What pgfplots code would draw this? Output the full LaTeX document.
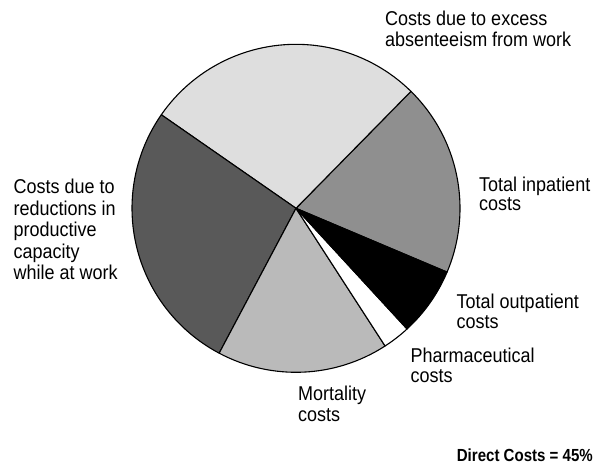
\documentclass[border=0pt]{standalone}
\usepackage{pgfplots}
\pgfplotsset{compat=1.18}
\usepackage{fontspec}
\setmainfont{Liberation Sans}[FakeStretch=0.9]
\newfontface\dcfont{Liberation Sans Bold}[FakeStretch=0.86]
% slice shares in percent (counter-clockwise, starting from inpatient)
\def\vIn{19.0}
\def\vAbs{27.7}
\def\vProd{26.9}
\def\vMort{16.9}
\def\vPharm{2.7}
\def\vOut{6.8}
\pgfmathsetmacro\aA{-22.9}
\pgfmathsetmacro\aB{\aA+3.6*\vIn}
\pgfmathsetmacro\aC{\aB+3.6*\vAbs}
\pgfmathsetmacro\aD{\aC+3.6*\vProd}
\pgfmathsetmacro\aE{\aD+3.6*\vMort}
\pgfmathsetmacro\aF{\aE+3.6*\vPharm}
\pgfmathsetmacro\aG{\aF+3.6*\vOut}
\def\cx{296}
\def\cy{208.3}
\def\r{164}
\newcommand\slice[3]{%
  \filldraw[fill=#3, draw=black, line width=1.1bp, line join=round]
    (axis cs:\cx,\cy) -- ([shift={(#1:\r bp)}]axis cs:\cx,\cy)
    arc[start angle=#1, end angle=#2, radius=\r bp] -- cycle;}
\newcommand\lab[3]{\node[anchor=base west, inner sep=0pt, font=\fontsize{20bp}{21bp}\selectfont] at (axis cs:#1,#2) {#3};}
\begin{document}
\begin{tikzpicture}
\begin{axis}[scale only axis, width=594bp, height=466bp,
  xmin=0, xmax=594, ymin=0, ymax=466, y dir=reverse,
  hide axis, clip=false]
\addplot[draw=none, forget plot] coordinates {(0,0) (594,466)};
\slice{\aA}{\aB}{black!44}
\slice{\aB}{\aC}{black!13}
\slice{\aC}{\aD}{black!65}
\slice{\aD}{\aE}{black!27}
\slice{\aE}{\aF}{white}
\slice{\aF}{\aG}{black}
\lab{385}{26}{Costs due to excess}
\lab{385}{46.7}{absenteeism from work}
\lab{13.5}{193.3}{Costs due to}
\lab{13.5}{215}{reductions in}
\lab{13.5}{236.5}{productive}
\lab{13.5}{258}{capacity}
\lab{13.5}{279.5}{while at work}
\lab{479}{191}{Total inpatient}
\lab{479}{210.5}{costs}
\lab{456.5}{308.3}{Total outpatient}
\lab{456.5}{328.3}{costs}
\lab{410.5}{362.7}{Pharmaceutical}
\lab{410.5}{382}{costs}
\lab{298}{400}{Mortality}
\lab{298}{421.5}{costs}
\node[anchor=base east, inner sep=0pt, font=\dcfont\fontsize{17.5bp}{18bp}\selectfont] at (axis cs:593,461.5) {Direct Costs = 45\%};
\end{axis}
\end{tikzpicture}
\end{document}
